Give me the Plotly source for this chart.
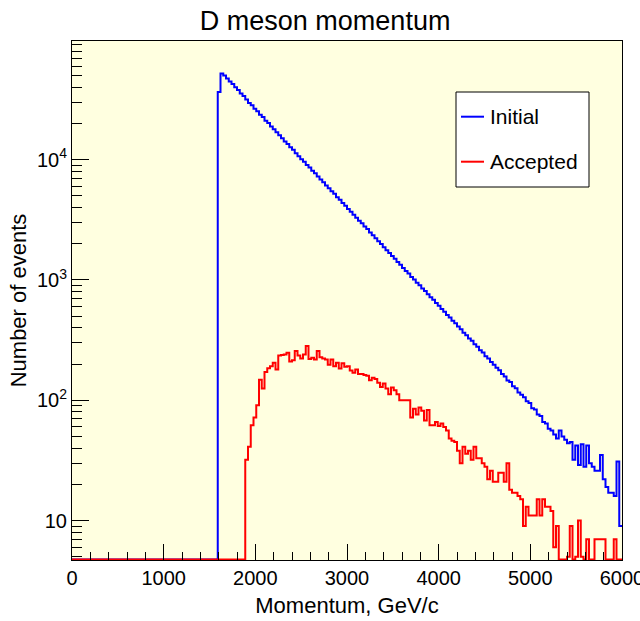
import plotly.graph_objects as go

# ---- data ----
BIN_WIDTH = 30  # GeV/c, 200 bins from 0 to 6000
N_BINS = 200

initial_start_bin = 53
initial_counts = [
    36600,
    52000, 50100, 47300, 44800, 42600, 40100, 38000, 35600, 33900, 31700,
    29600, 28300, 26500, 25300, 23700, 22600, 21100, 20200, 18900, 17900,
    16900, 16000, 15100, 14200, 13500, 12700, 12100, 11300, 10700, 10100,
    9600, 9050, 8600, 8100, 7700, 7250, 6850, 6500, 6100, 5800,
    5470, 5200, 4880, 4650, 4370, 4150, 3900, 3700, 3480, 3300,
    3110, 2960, 2780, 2650, 2480, 2360, 2220, 2100, 1990, 1870,
    1770, 1680, 1580, 1500, 1410, 1340, 1260, 1190, 1130, 1060,
    1010, 950, 905, 850, 810, 760, 720, 685, 645, 610,
    575, 545, 512, 488, 458, 436, 410, 390, 365, 347,
    327, 312, 292, 278, 260, 250, 232, 222, 208, 197,
    186, 178, 165, 158, 146, 142, 131, 126, 116, 111,
    106, 98, 95, 86, 84, 76, 74, 66, 64, 58,
    56, 52, 48, 56, 50, 47, 44, 45, 32, 42,
    29, 43, 28, 42, 30, 28, 26, 26, 35, 22,
    19, 17, 17, 16, 31, 9,
]

accepted_start_bin = 63
accepted_counts = [
    32, 41, 62, 72, 91, 148, 125, 172, 185, 192,
    205, 180, 236, 238, 240, 248, 210, 215, 257, 236,
    222, 240, 283, 220, 226, 218, 257, 228, 222, 218,
    197, 218, 192, 205, 184, 203, 190, 192, 177, 169,
    180, 165, 165, 162, 160, 147, 154, 150, 140, 129,
    138, 125, 112, 128, 121, 112, 100, 100, 100, 100,
    72, 85, 76, 87, 82, 68, 83, 62, 62, 66,
    61, 64, 60, 56, 48, 46, 45, 38, 30, 41,
    36, 38, 32, 41, 33, 33, 30, 28, 22, 26,
    21, 21, 25, 25, 21, 30, 18, 17, 17, 16,
    15, 9, 13, 11, 11, 11, 15, 11, 15, 13,
    13, 12, 6, 9, 3, 2, 4, 5, 9, 4,
    5, 10, 5, 0, 7, 4, 4, 7, 7, 7,
    7, 0, 0, 0, 7, 0, 0,
]

series_names = ["Initial", "Accepted"]
series_colors = ["#0000ff", "#ff0000"]

x_tick_vals = [0, 1000, 2000, 3000, 4000, 5000, 6000]
y_tick_vals = [10, 100, 1000, 10000]
y_tick_text = ["10", "10<sup>2</sup>", "10<sup>3</sup>", "10<sup>4</sup>"]

# ---- build full histograms ----
def full_hist(start, counts):
    h = [0] * N_BINS
    for i, c in enumerate(counts):
        h[start + i] = c
    return h

hists = [full_hist(initial_start_bin, initial_counts),
         full_hist(accepted_start_bin, accepted_counts)]

Y_LOG_MIN, Y_LOG_MAX = 0.672, 4.987
FLOOR = 4.75  # empty bins drawn along the bottom of the frame, like ROOT

edges = [i * BIN_WIDTH for i in range(N_BINS + 1)]

fig = go.Figure()
for name, color, h in zip(series_names, series_colors, hists):
    y = [max(v, FLOOR) for v in h]
    y = y + [y[-1]]
    fig.add_trace(go.Scatter(
        x=edges, y=y, mode="lines", name=name,
        line=dict(color=color, width=2, shape="hv"),
        hoverinfo="skip", showlegend=False,
    ))

FONT = "Liberation Sans, Arial, Helvetica, sans-serif"

fig.update_layout(
    width=640, height=621,
    margin=dict(l=72, r=18, t=41, b=61),
    paper_bgcolor="white",
    plot_bgcolor="#ffffe0",
    font=dict(family=FONT, color="black"),
    title=dict(text="D meson momentum", x=0.508, xanchor="center",
               y=1 - 21 / 621, yanchor="middle",
               font=dict(size=27, family=FONT, color="black")),
)

fig.update_xaxes(
    range=[0, 6000], showgrid=False, zeroline=False,
    showline=True, linecolor="black", linewidth=1, mirror=True,
    ticks="inside", ticklen=16, tickwidth=1, tickcolor="black",
    tickmode="array", tickvals=x_tick_vals, tickfont=dict(size=20, family=FONT),
    ticklabeloverflow="allow",
    minor=dict(ticks="inside", ticklen=8, dtick=200, tickcolor="black", showgrid=False),
    title=dict(text="Momentum, GeV/c", font=dict(size=22, family=FONT), standoff=9),
    automargin=False,
)

minor_y = [m * 10 ** k for k in range(0, 5) for m in range(2, 10) if 4.7 < m * 10 ** k < 97000]
fig.update_yaxes(
    type="log", range=[Y_LOG_MIN, Y_LOG_MAX], showgrid=False, zeroline=False,
    showline=True, linecolor="black", linewidth=1, mirror=True,
    ticks="inside", ticklen=17, tickwidth=1, tickcolor="black",
    tickmode="array", tickvals=y_tick_vals, ticktext=y_tick_text,
    tickfont=dict(size=20, family=FONT),
    minor=dict(ticks="inside", ticklen=10, tickmode="array", tickvals=minor_y,
               tickcolor="black", showgrid=False),
    title=dict(text="Number of events", font=dict(size=22, family=FONT), standoff=4),
    automargin=False,
)

# ---- legend box (drawn like ROOT's TLegend) ----
def px_x(p):
    return (p - 72) / 550

def px_y(p):
    return (560 - p) / 519

fig.add_shape(type="rect", xref="x domain", yref="y domain",
              x0=px_x(456), x1=px_x(589), y0=px_y(187), y1=px_y(92),
              fillcolor="white", line=dict(color="black", width=1), layer="above")
for row_y, name, color in zip([116.7, 161.7], series_names, series_colors):
    fig.add_shape(type="line", xref="x domain", yref="y domain",
                  x0=px_x(461), x1=px_x(484), y0=px_y(row_y), y1=px_y(row_y),
                  line=dict(color=color, width=2), layer="above")
    fig.add_annotation(xref="x domain", yref="y domain", x=px_x(488), y=px_y(row_y),
                       text=name, showarrow=False, xanchor="left", yanchor="middle",
                       font=dict(size=21, family=FONT, color="black"))

fig.write_html("out.html")
